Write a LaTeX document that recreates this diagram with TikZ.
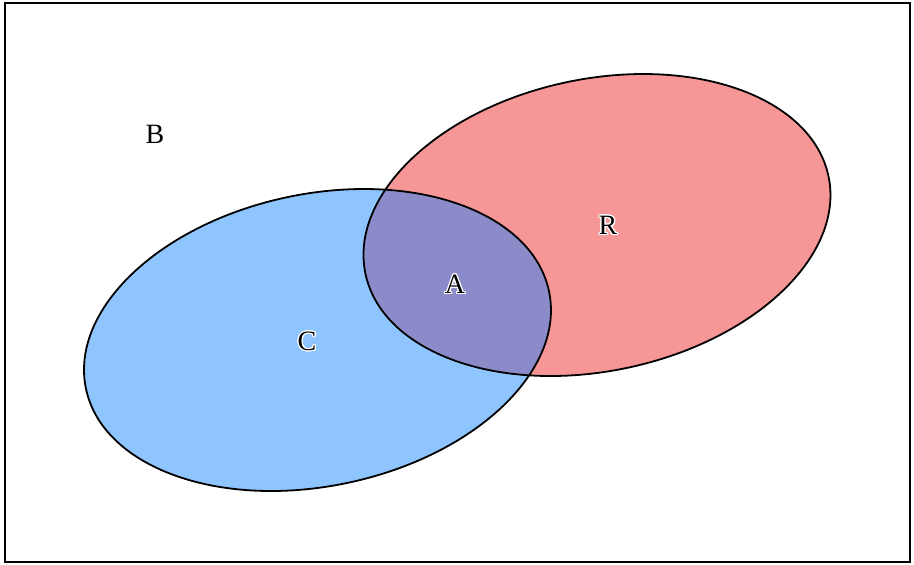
\documentclass[tikz,border=0pt]{standalone}
\usepackage{fontspec}
\setmainfont{Liberation Serif}
\usepackage{contour}
\contourlength{1.2pt}
\contournumber{16}
\definecolor{bluefill}{HTML}{8EC5FF}
\definecolor{redfill}{HTML}{F79696}
\definecolor{mixfill}{HTML}{8A8BC8}
\begin{document}
\begin{tikzpicture}[x=1pt,y=1pt,
  lbl/.style={font=\fontsize{28}{32}\selectfont, inner sep=0pt},
  setline/.style={line width=1.8pt, black}]
\useasboundingbox (0,0) rectangle (914,565);
\draw[line width=1.6pt] (5,3) coordinate (bl) rectangle (910,562) coordinate (tr);
\coordinate (cc) at (317.5,225);
\coordinate (rc) at (597,340);
\fill[redfill, rotate around={11.9:(rc)}] (rc) ellipse [x radius=236.6pt, y radius=146pt];
\fill[bluefill, rotate around={11.9:(cc)}] (cc) ellipse [x radius=236.6pt, y radius=146pt];
\begin{scope}
  \clip[rotate around={11.9:(rc)}] (rc) ellipse [x radius=236.6pt, y radius=146pt];
  \fill[mixfill, rotate around={11.9:(cc)}] (cc) ellipse [x radius=236.6pt, y radius=146pt];
\end{scope}
\draw[setline, rotate around={11.9:(rc)}] (rc) ellipse [x radius=236.6pt, y radius=146pt];
\draw[setline, rotate around={11.9:(cc)}] (cc) ellipse [x radius=236.6pt, y radius=146pt];
\node[lbl] (B) at (155,431) {B};
\node[lbl] (R) at (608,339) {\contour{white}{R}};
\node[lbl] (A) at (455,280) {\contour{white}{A}};
\node[lbl] (C) at (307,223) {\contour{white}{C}};
\end{tikzpicture}
\end{document}
